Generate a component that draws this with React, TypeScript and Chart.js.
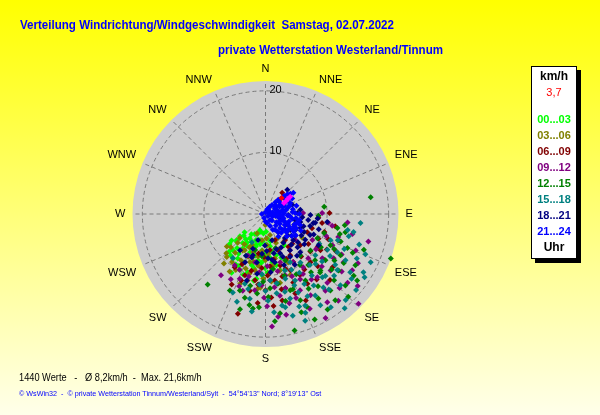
import React, { useEffect, useRef } from 'react';
import { Chart, registerables } from 'chart.js';

Chart.register(...registerables);

// ---------- data ----------
const DIRECTION_LABELS = ['N', 'NNE', 'NE', 'ENE', 'E', 'ESE', 'SE', 'SSE', 'S', 'SSW', 'SW', 'WSW', 'W', 'WNW', 'NW', 'NNW'];
const RING_TICKS = [10, 20];
const SPEED_MAX = 21.6;
const VALUE_COUNT = 1440;
const SPEED_AVG = '8,2';
const SPEED_MAX_TEXT = '21,6';
const CURRENT_SPEED_TEXT = '3,7';

const GROUP_LABELS = ['00...03', '03...06', '06...09', '09...12', '12...15', '15...18', '18...21', '21...24'];
const GROUP_COLORS = ['#00ff00', '#808000', '#800000', '#800080', '#008000', '#008080', '#000080', '#0000ff'];

// [direction in degrees, speed in km/h]
const h00_03: [number, number][] = [
  [228, 6.3], [229, 5.5], [229, 4.5], [213, 4.7], [208, 3.7], [199, 2.8], [178, 2.9], [213.5, 6.7], [202, 6.7], [196.5, 5.5],
  [185.5, 5.9], [172, 5.3], [165.6, 6.9], [212, 8.5], [204, 8.6], [195, 8.6], [189, 7.6], [180.5, 8.8], [172, 7.9], [197, 9.9],
  [204.5, 10], [188, 10.6], [183, 10], [165.5, 9.4], [149, 5.9], [222, 7.9], [213, 5.5], [196.5, 7.2], [192, 4.3], [176.6, 6.9],
  [210.5, 9.5], [230, 7.6],
  [225, 5], [218, 6], [220, 7.2], [215, 4], [210, 6], [206, 5], [205, 7.5], [200, 4.5], [198, 6], [194, 7],
  [190, 5], [186, 4.5], [182, 6.5], [178, 5], [175, 7], [170, 6.2], [168, 8.5], [185, 8], [192, 9], [200, 10.5],
  [210, 11], [216, 9], [220, 8.8], [224, 8.5], [218, 5.2], [202, 3.5], [195, 3], [186, 3.2], [176, 4], [170, 4.5],
  [160, 7.5], [178, 9.5], [190, 11], [207, 9.5], [232, 7], [226, 6.5], [214, 7.8], [197, 5.2], [182, 7.5], [173, 9],
];
const h03_06: [number, number][] = [
  [222, 9.4], [226, 7.8], [208, 8.5], [209.7, 6.8], [186, 12.2], [184, 12], [204, 3.4], [148, 5.4], [152.5, 4.4], [177, 5.1],
  [181, 1.8], [123, 7.1], [198, 8.2], [190.6, 9.3], [208, 10.3], [195, 11.2], [175.6, 9.5], [168, 7.4], [187.7, 4.3], [203.5, 5.5],
  [227, 5.7], [155, 8.7], [168, 11.4], [158, 10.7], [200, 9.4], [168, 3.5], [189, 6.6],
  [230, 8.2], [224, 6.5], [218, 8], [215, 9.5], [212, 7], [206, 6], [202, 7.5], [198, 6.5], [194, 8], [190, 7],
  [185, 6], [180, 7.5], [176, 6.5], [172, 8.5], [166, 9.5], [162, 6], [175, 11], [182, 10.5], [195, 10], [212, 11],
  [200, 12], [220, 10.5], [188, 8.5], [178, 4], [160, 5], [215, 6], [225, 9],
];
const h06_09: [number, number][] = [
  [38, 4.4], [89, 10.4], [99, 9.3], [94, 8.6], [113.5, 7.4], [107, 10], [122.6, 10], [128.5, 13.9], [205.6, 12.7], [195.5, 16.8],
  [176, 13.6], [169, 14.3], [159.5, 13.8], [149, 13.2], [173, 5.9], [149, 7.8], [132, 7.6], [164, 8.7], [184, 8.8], [189, 10.9],
  [172, 10.9], [156, 10], [143, 5.3], [137, 10.7], [150.5, 11.4], [198.6, 10.5], [123.4, 10.7], [109.7, 12.6], [180, 12.4], [191.5, 12.7],
  [165, 12.5], [107, 7.9], [135.7, 15], [161, 6.2],
  [150, 9], [155, 8], [160, 9.5], [165, 10.5], [170, 7.5], [175, 8.5], [178, 10], [182, 7], [186, 11.5], [194, 9.5],
  [200, 11.5], [205, 9], [145, 11], [140, 9], [135, 12], [130, 9.5], [125, 8.5], [120, 11.5], [115, 9.5], [118, 13],
  [128, 12], [142, 13.5], [158, 12], [168, 12.5], [155, 15.5], [145, 6.5], [138, 6.5], [160, 4.5], [190, 6.5], [210, 10],
  [175, 15], [185, 14.5], [112, 11], [100, 11.5],
];
const h09_12: [number, number][] = [
  [88.5, 6.1], [89, 9.2], [96, 13.4], [105, 17.3], [134, 21], [173, 16.8], [168.4, 16.7], [176.7, 18.3], [216, 12.3], [201.7, 11.3],
  [179, 15], [181, 13.6], [107.6, 12.4], [123, 13.2], [131, 14], [130, 17.4], [121.8, 14.9], [140.7, 13.3], [144.7, 10.6], [128, 11.7],
  [146, 7.1], [163, 8.2], [176, 10.8], [155.6, 13.6], [151, 15.1], [192, 8], [203, 7.3], [211, 9.7], [98, 10.3], [123, 16.8],
  [119, 8.7], [131, 6.4], [142, 15.8], [162, 10.5], [140, 18.4], [112, 15.8], [183, 11.6], [196.5, 13],
  [110, 10.5], [115, 12], [118, 14], [125, 10], [127, 15.5], [133, 12.5], [136, 10], [138, 15], [145, 13], [148, 11.5],
  [150, 9], [152, 12], [157, 11], [160, 14.5], [165, 12.5], [168, 9.5], [170, 13.5], [173, 12], [178, 8.5], [186, 9.5],
  [188, 12.5], [195, 10.5], [200, 12.5], [205, 10], [208, 12], [135, 17], [145, 17.5], [155, 17], [165, 15], [103, 14.5],
  [100, 11], [118, 17], [128, 19], [150, 19.5],
];
const h12_15: [number, number][] = [
  [81, 17.3], [109.6, 21.6], [219.4, 14.8], [166, 19.5], [83, 9.6], [101, 11.9], [115, 9.3], [112.6, 14.4], [127.7, 15], [126, 18.4],
  [139.7, 16.3], [148, 16.2], [155, 18.9], [171.7, 16.3], [184, 15.2], [193.9, 14], [187.6, 15.5], [140, 8.8], [129, 9.4], [127.7, 12.3],
  [115.7, 11.7], [118.8, 13.9], [149, 12.6], [162, 13], [176.5, 12.1], [192, 11.9], [198.5, 13.1], [157, 8.2], [164, 5.8], [196, 6.1],
  [135.8, 12.8], [102.8, 13.3], [119.7, 16.8], [140, 10.8], [141, 18], [158, 15.1], [205, 13.7], [92, 8.6], [185, 6.9], [131.8, 17.4],
  [105, 12.5], [108, 10], [110, 13], [114, 15.5], [117, 12.5], [121, 10.5], [122, 15], [124, 13.5], [130, 14], [133, 11],
  [134, 15.5], [137, 13], [142, 12], [144, 14.5], [146, 10], [150, 14], [153, 11], [156, 16.5], [160, 13], [163, 10.5],
  [167, 14.5], [170, 11.5], [172, 9], [178, 13.5], [182, 11], [186, 13], [190, 15], [175, 17.5], [147, 18.5], [125, 17.5],
  [98, 13], [110, 17], [135, 19], [160, 17], [195, 16],
];
const h15_18: [number, number][] = [
  [114.7, 18.8], [120.7, 18.5], [122.6, 19.1], [95.4, 15.5], [101.6, 14.6], [101, 13.6], [202.6, 13.8], [205.7, 5.1], [158, 17.3], [156.5, 16.2],
  [163.7, 14.3], [141.8, 15.2], [128, 14.8], [138, 13.8], [124.5, 16.7], [120, 11.6], [118, 13.2], [139, 11], [157.4, 13.8], [171, 11.4],
  [176, 10.8], [183.3, 9.8], [148.6, 15.5], [161, 9.7], [156, 11.8], [144.3, 9.7], [169.7, 15.1], [178.3, 14.1], [190.5, 14], [196.5, 11.8],
  [216.5, 8.9], [149, 17.3], [137, 19.1], [130, 19.2], [112, 11.4], [129.6, 10.5], [153, 8.8], [133.6, 16.8], [159.6, 18.5], [165, 17.1],
  [105, 14], [108, 16], [110, 12.5], [114, 14], [116, 16.5], [119, 10], [123, 12.5], [126, 14], [127, 17.5], [130, 12],
  [132, 15], [135, 11.5], [136, 14], [140, 16], [143, 12.5], [146, 14], [150, 11], [151, 13], [153, 15], [155, 10],
  [158, 12.5], [160, 16], [163, 11], [166, 13], [168, 15.5], [172, 13], [175, 16], [180, 12.5], [185, 11.5], [188, 16],
  [193, 12.5], [198, 15], [145, 18.5], [120, 15], [112, 17.5], [140, 20],
];
const h18_21: [number, number][] = [
  [42, 5.3], [88, 5.2], [100, 8.2], [115, 6.9], [131, 7], [146, 7.1], [159.6, 6.8], [176.7, 7.2], [197.4, 7.4], [100.7, 7.9],
  [97.4, 10.1], [197, 7], [133.4, 6.2], [137.8, 8.4], [195.7, 11.2], [112.5, 2.6], [119, 3.7], [123, 4.8], [101.5, 4.9], [112, 6.1],
  [145, 3.6], [141, 5], [166, 4.4], [123, 7.7], [91.3, 7.3], [71, 4.6], [83, 5.7], [181, 5.1], [196, 4.4], [115.3, 8],
  [169, 8], [203, 8.5], [215, 7.2], [120.6, 10], [92.5, 3.7],
  [95, 6], [98, 7], [103, 5.8], [105, 7.5], [108, 6.5], [110, 5], [113, 8.5], [118, 5.5], [121, 6.8], [126, 6],
  [128, 8], [134, 5], [136, 7.5], [140, 6.5], [143, 8.5], [148, 5.5], [150, 8], [155, 6], [158, 7.5], [163, 6],
  [168, 6.5], [172, 7.5], [178, 6], [185, 6.5], [190, 8], [200, 6], [205, 7.5], [150, 9.5], [130, 5.5], [106, 9],
  [95, 8.5], [160, 8.8], [175, 9.5], [188, 9.8],
];
const h21_24: [number, number][] = [
  [0, 0.3], [32, 0.8], [36, 1.8], [42, 3.1], [46, 4.2], [51, 5.2], [52.6, 5.7], [57, 4.2], [58, 2.8], [58, 1.8],
  [66, 0.8], [129, 0.5], [90, 1.4], [82, 2.4], [79, 3.4], [86, 4.4], [75, 5.2], [143, 1.2], [127, 2.2], [110, 2.9],
  [114, 4], [113, 5.1], [107.7, 5.9], [134, 3.3], [131, 4.5], [129.7, 5.6], [149, 3], [159, 2.1], [200, 0.7], [270, 0.6],
  [66.6, 3.3], [66, 4.4], [97.5, 5], [101, 1.7], [97, 2.7], [120, 5], [115, 5.5], [125, 4.5], [110, 5], [70, 4.2],
  [80, 4.5], [95, 4], [55, 4.6], [65, 1.8], [110, 1.2],
  [40, 2.5], [45, 3.5], [48, 4.8], [50, 3], [53, 4], [55, 2.2], [60, 3.8], [62, 2.6], [68, 3], [72, 2],
  [74, 3.8], [76, 1.2], [78, 2.8], [84, 1.8], [88, 3], [88, 4.8], [92, 2.2], [94, 3.6], [96, 1], [100, 4.4],
  [103, 3], [105, 2.2], [106, 5.3], [108, 4], [112, 3.4], [116, 2.6], [118, 4.4], [120, 3.6], [122, 5.4], [124, 2.8],
  [128, 4], [132, 3.8], [136, 5], [138, 2.5], [140, 4], [145, 3.5], [150, 4.2], [155, 2.8], [170, 1.5], [180, 1.2],
  [30, 1.3], [20, 0.8], [48, 2], [85, 0.6], [135, 1.5], [100, 5.6], [90, 5.5], [125, 6], [115, 6.3], [60, 5],
];
const lastHour: [number, number][] = [[55, 4.9], [57.6, 4], [56, 4.4], [59, 3.5]];
const currentValue: [number, number][] = [[45, 3.7]];

const GROUP_DATA = [h00_03, h03_06, h06_09, h09_12, h12_15, h15_18, h18_21, h21_24];

// ---------- helpers ----------
const toXY = (p: [number, number]) => {
  const a = (p[0] * Math.PI) / 180;
  return { x: p[1] * Math.sin(a), y: p[1] * Math.cos(a) };
};

const FONT = '"Liberation Sans", Arial, sans-serif';

const polarGrid = {
  id: 'polarGrid',
  beforeDatasetsDraw(chart: any) {
    const { ctx } = chart;
    const xs = chart.scales.x;
    const ys = chart.scales.y;
    const cx = xs.getPixelForValue(0);
    const cy = ys.getPixelForValue(0);
    const R = xs.getPixelForValue(SPEED_MAX) - cx;
    ctx.save();
    ctx.fillStyle = '#cecece';
    ctx.beginPath();
    ctx.arc(cx, cy, R, 0, Math.PI * 2);
    ctx.fill();

    ctx.strokeStyle = '#7a7a7a';
    ctx.lineWidth = 1;
    ctx.setLineDash([4, 3]);
    RING_TICKS.forEach((v) => {
      const r = xs.getPixelForValue(v) - cx;
      ctx.beginPath();
      ctx.arc(cx, cy, r, 0, Math.PI * 2);
      ctx.stroke();
    });
    DIRECTION_LABELS.forEach((_, i) => {
      const a = (i * 22.5 * Math.PI) / 180;
      const px = xs.getPixelForValue(SPEED_MAX * Math.sin(a));
      const py = ys.getPixelForValue(SPEED_MAX * Math.cos(a));
      ctx.beginPath();
      ctx.moveTo(cx, cy);
      ctx.lineTo(px, py);
      ctx.stroke();
    });
    ctx.setLineDash([]);

    ctx.fillStyle = '#000';
    ctx.font = `11px ${FONT}`;
    ctx.textBaseline = 'middle';
    ctx.textAlign = 'left';
    RING_TICKS.forEach((v) => {
      const r = xs.getPixelForValue(v) - cx;
      ctx.fillText(String(v), cx + 4, cy - r - 1);
    });

    DIRECTION_LABELS.forEach((label, i) => {
      const a = (i * 22.5 * Math.PI) / 180;
      const s = Math.round(Math.sin(a) * 1000) / 1000;
      const c = Math.round(Math.cos(a) * 1000) / 1000;
      const d = R + 7;
      const ax = cx + d * s;
      const ay = cy - d * c;
      ctx.textAlign = s > 0 ? 'left' : s < 0 ? 'right' : 'center';
      const yOff = c > 0 ? -5 : c < 0 ? 5 : 0;
      ctx.fillText(label, ax, ay + yOff);
    });
    ctx.restore();
  },
};

export default function App() {
  const canvasRef = useRef<HTMLCanvasElement | null>(null);

  useEffect(() => {
    if (!canvasRef.current) return;
    const datasets: any[] = [
      { label: 'aktuell', data: currentValue.map(toXY), backgroundColor: '#ff0000', order: 0 },
      { label: 'letzte', data: lastHour.map(toXY), backgroundColor: '#ff00ff', order: 1 },
    ];
    GROUP_DATA.forEach((g, i) => {
      datasets.push({
        label: GROUP_LABELS[i],
        data: g.map(toXY),
        backgroundColor: GROUP_COLORS[i],
        order: 10 - i,
      });
    });
    const chart = new Chart(canvasRef.current, {
      type: 'scatter',
      data: { datasets },
      options: {
        responsive: false,
        animation: false,
        devicePixelRatio: 1,
        layout: { padding: { left: 132.5, right: 201.5, top: 81, bottom: 68 } },
        scales: {
          x: { type: 'linear', min: -SPEED_MAX, max: SPEED_MAX, display: false },
          y: { type: 'linear', min: -SPEED_MAX, max: SPEED_MAX, display: false },
        },
        elements: {
          point: { pointStyle: 'rectRot', radius: 3, borderWidth: 0, hoverRadius: 3 },
        },
        datasets: { scatter: { clip: false } } as any,
        plugins: { legend: { display: false }, tooltip: { enabled: false } },
      },
      plugins: [polarGrid],
    });
    return () => chart.destroy();
  }, []);

  const legendItems = [
    { text: 'km/h', color: '#000', top: 75.7, bold: true, size: 12 },
    { text: CURRENT_SPEED_TEXT, color: '#ff0000', top: 92, bold: false, size: 11 },
    ...GROUP_LABELS.map((t, i) => ({ text: t, color: GROUP_COLORS[i], top: 119 + i * 16, bold: true, size: 11 })),
    { text: 'Uhr', color: '#000', top: 247, bold: true, size: 12 },
  ];

  const titleStyle: React.CSSProperties = {
    position: 'absolute',
    lineHeight: '16px',
    fontSize: 13,
    fontWeight: 'bold',
    color: '#0000ff',
    whiteSpace: 'pre',
    transform: 'scaleX(0.89)',
    transformOrigin: 'left center',
  };

  return (
    <div
      style={{
        position: 'absolute',
        left: 0,
        top: 0,
        width: 600,
        height: 415,
        overflow: 'hidden',
        background: 'linear-gradient(to bottom, #ffff00 0%, #ffffea 100%)',
        fontFamily: FONT,
      }}
    >
      <canvas ref={canvasRef} width={600} height={415} style={{ position: 'absolute', left: 0, top: 0, width: 600, height: 415 }} />
      <div style={{ ...titleStyle, left: 20, top: 17 }}>
        {'Verteilung Windrichtung/Windgeschwindigkeit  Samstag, 02.07.2022'}
      </div>
      <div style={{ ...titleStyle, left: 218, top: 42 }}>{'private Wetterstation Westerland/Tinnum'}</div>
      <div
        style={{
          position: 'absolute',
          left: 531,
          top: 66,
          width: 44,
          height: 191,
          background: '#fff',
          border: '1px solid #000',
          boxShadow: '4px 4px 0 #000',
        }}
      />
      {legendItems.map((it, i) => (
        <div
          key={i}
          style={{
            position: 'absolute',
            left: 531,
            width: 46,
            textAlign: 'center',
            top: it.top - 7,
            lineHeight: '14px',
            fontSize: it.size,
            fontWeight: it.bold ? 'bold' : 'normal',
            color: it.color,
            whiteSpace: 'pre',
          }}
        >
          {it.text}
        </div>
      ))}
      <div
        style={{
          position: 'absolute',
          left: 19,
          top: 370,
          lineHeight: '14px',
          fontSize: 10.5,
          color: '#000',
          whiteSpace: 'pre',
          transform: 'scaleX(0.88)',
          transformOrigin: 'left center',
        }}
      >
        {`${VALUE_COUNT} Werte   -   Ø ${SPEED_AVG}km/h  -  Max. ${SPEED_MAX_TEXT}km/h`}
      </div>
      <div style={{ position: 'absolute', left: 19, top: 389, lineHeight: '10px', fontSize: 7.2, color: '#0000ff', whiteSpace: 'pre' }}>
        {"© WsWin32  -  © private Wetterstation Tinnum/Westerland/Sylt  -  54°54'13'' Nord; 8°19'13'' Ost"}
      </div>
    </div>
  );
}
